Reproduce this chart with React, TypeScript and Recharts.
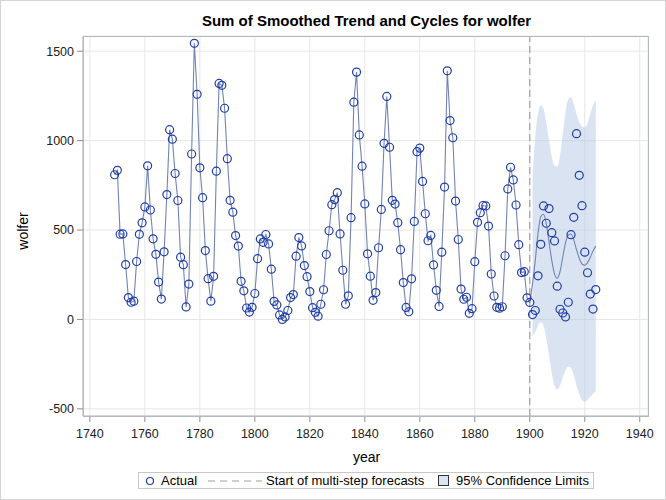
import React from "react";
import {
  Area,
  CartesianGrid,
  ComposedChart,
  Line,
  ReferenceLine,
  XAxis,
  YAxis
} from "recharts";

const FONT = "Arial, 'Liberation Sans', sans-serif";

// yearly wolfer numbers, 1749 .. 1924
const firstYear = 1749;
const actual = [
  809, 834, 477, 478, 307, 122, 96, 102, 324, 476,
  540, 629, 859, 612, 451, 364, 209, 114, 378, 698,
  1061, 1008, 816, 665, 348, 306, 70, 198, 925, 1544,
  1259, 848, 681, 385, 228, 102, 241, 829, 1320, 1309,
  1181, 899, 666, 600, 469, 410, 213, 160, 64, 41,
  68, 145, 340, 450, 431, 475, 422, 281, 101, 81,
  25, 0, 14, 50, 122, 139, 354, 458, 411, 301,
  239, 156, 66, 40, 18, 85, 166, 363, 496, 642,
  670, 709, 478, 275, 85, 132, 569, 1215, 1383, 1032,
  857, 646, 367, 242, 107, 150, 401, 615, 985, 1247,
  963, 666, 645, 541, 390, 206, 67, 43, 227, 548,
  938, 958, 772, 591, 440, 470, 305, 163, 73, 376,
  740, 1390, 1112, 1016, 662, 447, 170, 113, 124, 34,
  60, 323, 543, 597, 637, 635, 522, 254, 131, 68,
  63, 71, 356, 730, 851, 780, 640, 418, 262, 267,
  121, 95, 27, 50, 244, 420, 635, 538, 620, 485,
  439, 186, 57, 36, 14, 96, 474, 571, 1039, 806,
  636, 376, 261, 142, 58, 167
];

const forecastStart = 1900;
// smoothed trend + cycles after the forecast start (1900 .. 1924)
const forecast = [
  95, 200, 330, 480, 575, 588, 535, 435, 330, 255,
  230, 268, 348, 428, 472, 478, 445, 390, 342, 310,
  303, 318, 348, 382, 410
];
// 95% limits, 1901 .. 1924
const lower = [
  -95, -70, -35, -15, -35, -105, -200, -300, -370, -392,
  -370, -325, -285, -265, -272, -312, -370, -420, -452, -460,
  -450, -432, -415, -402
];
const upper = [
  800, 1020, 1150, 1197, 1178, 1100, 1000, 910, 860, 855,
  915, 1035, 1160, 1232, 1244, 1205, 1150, 1102, 1078, 1074,
  1098, 1148, 1198, 1228
];

const xTicks = [1740, 1760, 1780, 1800, 1820, 1840, 1860, 1880, 1900, 1920, 1940];
const yTicks = [-500, 0, 500, 1000, 1500];

const rows = actual.map((v, i) => {
  const year = firstYear + i;
  const row: Record<string, any> = { year, actual: v };
  if (year <= forecastStart) row.fit = v;
  const f = year - forecastStart;
  if (f >= 0) row.forecast = forecast[f];
  if (f >= 1) row.band = [lower[f - 1], upper[f - 1]];
  return row;
});

const tickStyle = { fill: "#222", fontSize: 12.5, fontFamily: FONT };

export default function App() {
  return (
    <div
      style={{
        position: "absolute",
        left: 0,
        top: 0,
        width: 666,
        height: 500,
        boxSizing: "border-box",
        border: "1px solid #d4d4d4",
        background: "#fff",
        fontFamily: FONT
      }}
    >
      <div
        style={{
          position: "absolute",
          left: 83,
          width: 565,
          top: 11,
          textAlign: "center",
          fontWeight: "bold",
          fontSize: 15,
          color: "#000"
        }}
      >
        Sum of Smoothed Trend and Cycles for wolfer
      </div>
      <div style={{ position: "absolute", left: -1, top: -1 }}>
        <ComposedChart width={666} height={500} data={rows} margin={{ top: 36, right: 18, bottom: 54, left: 0 }}>
          <CartesianGrid stroke="#e6e6e6" />
          <XAxis
            dataKey="year"
            type="number"
            domain={[1737.5, 1943]}
            ticks={xTicks}
            allowDataOverflow
            height={30}
            tick={tickStyle}
            tickSize={6}
            tickMargin={7}
            tickLine={{ stroke: "#8c8c8c" }}
            axisLine={{ stroke: "#b3b9bf" }}
          />
          <YAxis
            type="number"
            domain={[-540, 1585]}
            ticks={yTicks}
            allowDataOverflow
            width={83}
            tick={tickStyle}
            tickSize={6}
            tickMargin={3}
            tickLine={{ stroke: "#8c8c8c" }}
            axisLine={{ stroke: "#b3b9bf" }}
          />
          <Area
            dataKey="band"
            type="monotone"
            stroke="none"
            fill="#b7c9e6"
            fillOpacity={0.52}
            isAnimationActive={false}
            connectNulls={false}
          />
          <ReferenceLine x={forecastStart} stroke="#a0a0a0" strokeWidth={1.2} strokeDasharray="7 4" />
          <Line
            dataKey="fit"
            stroke="#7384b3"
            strokeWidth={1.1}
            dot={false}
            isAnimationActive={false}
          />
          <Line
            dataKey="forecast"
            type="monotone"
            stroke="#7384b3"
            strokeWidth={1.1}
            dot={false}
            isAnimationActive={false}
          />
          <Line
            dataKey="actual"
            stroke="none"
            dot={{ r: 4, stroke: "#1f3ea8", strokeWidth: 1.2, fill: "none" }}
            activeDot={false}
            isAnimationActive={false}
          />
        </ComposedChart>
      </div>
      <div
        style={{
          position: "absolute",
          left: 82,
          top: 35,
          width: 566,
          height: 381,
          border: "1px solid #b3b9bf",
          boxSizing: "border-box",
          pointerEvents: "none"
        }}
      />
      <div
        style={{
          position: "absolute",
          left: 22,
          top: 230,
          transform: "translate(-50%, -50%) rotate(-90deg)",
          fontSize: 14,
          color: "#000"
        }}
      >
        wolfer
      </div>
      <div
        style={{
          position: "absolute",
          left: 83,
          width: 565,
          top: 448,
          textAlign: "center",
          fontSize: 14,
          color: "#000"
        }}
      >
        year
      </div>
      <div
        style={{
          position: "absolute",
          left: 137,
          top: 471,
          width: 456,
          height: 17,
          boxSizing: "border-box",
          border: "1px solid #c8c8c8",
          fontSize: 13,
          color: "#000",
          whiteSpace: "nowrap"
        }}
      >
        <svg width={12} height={12} style={{ position: "absolute", left: 5, top: 2 }}>
          <circle cx={6} cy={6} r={3.5} fill="none" stroke="#1f3ea8" strokeWidth={1.2} />
        </svg>
        <span style={{ position: "absolute", left: 22, top: 0, lineHeight: "15px" }}>Actual</span>
        <svg width={56} height={12} style={{ position: "absolute", left: 69, top: 2 }}>
          <line x1={0} y1={6} x2={54} y2={6} stroke="#a0a0a0" strokeWidth={1.2} strokeDasharray="7 5" />
        </svg>
        <span style={{ position: "absolute", left: 127, top: 0, lineHeight: "15px" }}>
          Start of multi-step forecasts
        </span>
        <svg width={14} height={14} style={{ position: "absolute", left: 298, top: 1 }}>
          <rect x={1.5} y={1.5} width={10} height={10} fill="#dbe4f2" stroke="#333" strokeWidth={1} />
        </svg>
        <span style={{ position: "absolute", left: 317, top: 0, lineHeight: "15px" }}>
          95% Confidence Limits
        </span>
      </div>
    </div>
  );
}
